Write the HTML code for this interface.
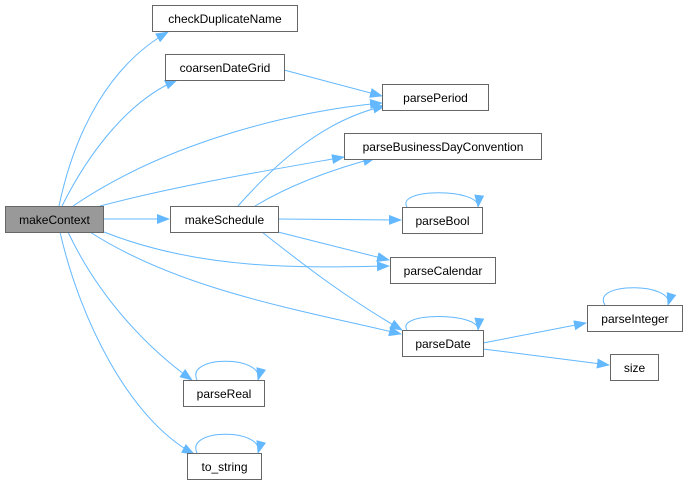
<!DOCTYPE html>
<html><head><meta charset="utf-8"><style>
html,body{margin:0;padding:0;background:#fff;width:687px;height:487px;overflow:hidden}
text{font-family:"Liberation Sans",Arial,sans-serif;font-size:12px;fill:#000}
</style></head><body>
<svg width="687" height="487" viewBox="0 0 687 487" xmlns="http://www.w3.org/2000/svg">
<defs><marker id="a" markerWidth="13" markerHeight="10" refX="12" refY="5" orient="auto" markerUnits="userSpaceOnUse"><path d="M0,0 L13,5 L0,10 Z" fill="#63b8ff"/></marker></defs>
<g fill="none" stroke="#63b8ff" stroke-width="1" marker-end="url(#a)">
<path d="M59,206 C75,130 110,65 168,32"/>
<path d="M62,206 C90,150 130,100 177,80"/>
<path d="M73,206 C170,140 300,110 382,103"/>
<path d="M100,206 C180,185 270,170 344,157"/>
<path d="M104,219 L169,219"/>
<path d="M104,232 C200,270 300,268 389,266"/>
<path d="M90,232 C180,290 300,310 401,334"/>
<path d="M68,232 C100,300 150,350 192,380"/>
<path d="M60,232 C80,320 130,420 194,454"/>
<path d="M284,70 L382,96"/>
<path d="M238,206 C270,170 320,120 385,106"/>
<path d="M255,206 C290,185 330,170 375,158"/>
<path d="M278,219 L401,220"/>
<path d="M278,232 L389,260"/>
<path d="M262,232 C310,270 350,300 402,330"/>
<path d="M483,343 L586,323"/>
<path d="M483,349 L609,365"/>
<path d="M407,207 C395,188 480,188 478,207"/>
<path d="M407,330 C395,312 480,312 478,330"/>
<path d="M605,305 C590,282 675,282 668,305"/>
<path d="M197,380 C185,355 265,355 258,380"/>
<path d="M197,453 C185,428 265,428 258,453"/>
</g>
<g stroke="#666" stroke-width="1">
<rect x="5.5" y="206.5" width="98" height="26" fill="#999"/>
<rect x="152.5" y="5.5" width="145" height="26" fill="#fff"/>
<rect x="165.5" y="54.5" width="119" height="26" fill="#fff"/>
<rect x="382.5" y="84.5" width="106" height="26" fill="#fff"/>
<rect x="344.5" y="133.5" width="197" height="26" fill="#fff"/>
<rect x="170.5" y="206.5" width="108" height="26" fill="#fff"/>
<rect x="402.5" y="207.5" width="80" height="26" fill="#fff"/>
<rect x="390.5" y="257.5" width="105" height="26" fill="#fff"/>
<rect x="402.5" y="330.5" width="81" height="26" fill="#fff"/>
<rect x="587.5" y="305.5" width="95" height="26" fill="#fff"/>
<rect x="610.5" y="354.5" width="48" height="26" fill="#fff"/>
<rect x="183.5" y="380.5" width="81" height="26" fill="#fff"/>
<rect x="187.5" y="453.5" width="74" height="26" fill="#fff"/>
</g>
<g text-anchor="middle">
<text x="54.5" y="224">makeContext</text>
<text x="225" y="23">checkDuplicateName</text>
<text x="225" y="72">coarsenDateGrid</text>
<text x="435.5" y="102">parsePeriod</text>
<text x="443" y="151">parseBusinessDayConvention</text>
<text x="224.5" y="224">makeSchedule</text>
<text x="442.5" y="225">parseBool</text>
<text x="443" y="275">parseCalendar</text>
<text x="443" y="348">parseDate</text>
<text x="635" y="323">parseInteger</text>
<text x="634.5" y="372">size</text>
<text x="224" y="398">parseReal</text>
<text x="224.5" y="471">to_string</text>
</g>
</svg>
</body></html>
